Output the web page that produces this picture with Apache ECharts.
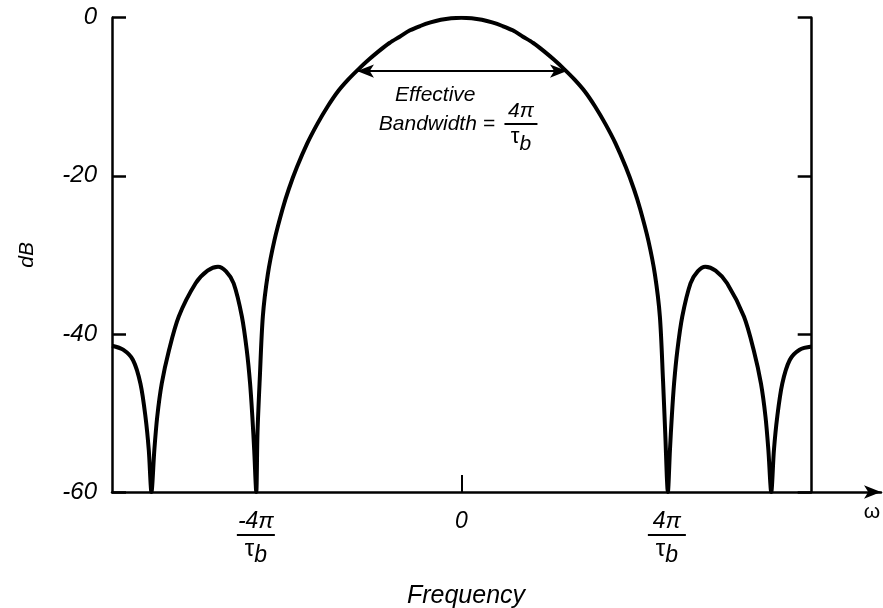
<!DOCTYPE html>
<html>
<head>
<meta charset="utf-8">
<script src="https://cdn.jsdelivr.net/npm/echarts@6/dist/echarts.min.js"></script>
<style>
  html, body { margin: 0; padding: 0; background: #fff; }
  #chart { width: 883px; height: 608px; }
</style>
</head>
<body>
<div id="chart"></div>
<script>
// Frequency in units of 4π/τb, magnitude in dB
const leftSidelobes = [
  [-1.700, -41.5], [-1.646, -42.0], [-1.598, -43.3], [-1.5615, -46.3], [-1.537, -50.5], [-1.521, -54.7], [-1.508, -60],
  [-1.494, -54.7], [-1.480, -50.5], [-1.458, -46.3], [-1.423, -42.1], [-1.375, -37.8], [-1.293, -33.6], [-1.235, -32.0],
  [-1.184, -31.5], [-1.145, -32.1], [-1.108, -33.6], [-1.068, -37.8], [-1.044, -42.1], [-1.028, -46.3], [-1.017, -50.5],
  [-1.008, -54.7]
];
const mainLobe = [
  [-0.998, -60], [-0.992, -52.5], [-0.981, -45.7], [-0.966, -37.8], [-0.942, -32.5], [-0.910, -28.2], [-0.870, -24.2],
  [-0.840, -21.7], [-0.800, -18.9], [-0.750, -15.9], [-0.700, -13.4], [-0.650, -11.2], [-0.600, -9.3], [-0.550, -7.8],
  [-0.500, -6.5], [-0.450, -5.3], [-0.400, -4.2], [-0.350, -3.2], [-0.300, -2.4], [-0.250, -1.6], [-0.200, -1.05],
  [-0.150, -0.6], [-0.100, -0.27], [-0.050, -0.07], [0, 0],
  [0.050, -0.07], [0.100, -0.27], [0.150, -0.6], [0.200, -1.05], [0.250, -1.6], [0.300, -2.4], [0.350, -3.2],
  [0.400, -4.2], [0.450, -5.3], [0.500, -6.5], [0.550, -7.8], [0.600, -9.3], [0.650, -11.2], [0.700, -13.4],
  [0.750, -15.9], [0.800, -18.9], [0.840, -21.7], [0.870, -24.2], [0.910, -28.2], [0.942, -32.5], [0.966, -37.8],
  [0.981, -45.7], [0.992, -52.5], [1.005, -60]
];
const rightSidelobes = [
  [1.015, -54.7], [1.024, -50.5], [1.035, -46.3], [1.051, -42.1], [1.075, -37.8], [1.115, -33.6], [1.150, -32.1],
  [1.187, -31.5], [1.237, -32.0], [1.293, -33.6], [1.375, -37.8], [1.423, -42.1], [1.458, -46.3], [1.480, -50.5],
  [1.494, -54.7], [1.508, -60], [1.521, -54.7], [1.537, -50.5], [1.5615, -46.3], [1.598, -43.3], [1.646, -42.0],
  [1.705, -41.6]
];

const xTickValues = [-1, 0, 1];
const xTickLabels = ['{n|-4π}\n{bar|}\n{d|τ}{s|b}', '{n|0}', '{n|4π}\n{bar|}\n{d|τ}{s|b}'];
const yTickLabels = { '0': '0', '-20': '-20', '-40': '-40', '-60': '-60' };

const bandwidthArrow = [[-0.508, -6.75], [0.514, -6.75]];
const annotations = [
  { coord: [-0.127, -9.8], text: '{t|Effective}' },
  { coord: [-0.119, -13.5], text: '{t|Bandwidth =}' },
  { coord: [0.29, -13.9], text: '{an|4π}\n{abar|}\n{ad|τ}{as|b}' }
];

const spectrum = leftSidelobes.concat(mainLobe, rightSidelobes);

const FONT = '"Liberation Sans", Arial, Helvetica, sans-serif';
const chart = echarts.init(document.getElementById('chart'), null, { renderer: 'canvas' });

chart.setOption({
  animation: false,
  backgroundColor: '#fff',
  textStyle: { fontFamily: FONT, color: '#000' },
  grid: { left: 112, right: 2, top: 17.7, bottom: 116 },
  xAxis: {
    type: 'value',
    min: -1.70,
    max: 2.042,
    splitLine: { show: false },
    axisLine: {
      show: true,
      onZero: false,
      symbol: ['none', 'arrow'],
      symbolSize: [10, 17],
      lineStyle: { color: '#000', width: 2.5 }
    },
    axisTick: { show: true, inside: true, length: 17, customValues: xTickValues, lineStyle: { color: '#000', width: 2 } },
    axisLabel: {
      show: true,
      customValues: xTickValues,
      margin: 19,
      formatter: function (v) {
        const i = xTickValues.indexOf(Math.round(v * 1000) / 1000);
        return i >= 0 ? xTickLabels[i] : '';
      },
      rich: {
        n: { fontSize: 23, fontStyle: 'italic', lineHeight: 22, fontFamily: FONT, color: '#000' },
        bar: { width: 38, height: 2, lineHeight: 4, backgroundColor: '#000' },
        d: { fontSize: 24, lineHeight: 22, verticalAlign: 'top', fontFamily: FONT, color: '#000' },
        s: { fontSize: 23, fontStyle: 'italic', lineHeight: 30, verticalAlign: 'bottom', fontFamily: FONT, color: '#000' }
      }
    }
  },
  yAxis: [
    {
      type: 'value',
      min: -60,
      max: 0,
      interval: 20,
      name: 'dB',
      nameLocation: 'middle',
      nameRotate: 90,
      nameGap: 74,
      nameTextStyle: { fontSize: 21, fontStyle: 'italic', fontFamily: FONT, color: '#000' },
      splitLine: { show: false },
      axisLine: { show: true, onZero: false, lineStyle: { color: '#000', width: 2.5 } },
      axisTick: { show: true, inside: true, length: 14, lineStyle: { color: '#000', width: 2.5 } },
      axisLabel: {
        show: true,
        margin: 15,
        fontSize: 24,
        fontStyle: 'italic',
        fontFamily: FONT,
        color: '#000',
        formatter: function (v) { return yTickLabels[String(v)] || ''; }
      }
    },
    {
      type: 'value',
      position: 'right',
      offset: -69.3,
      min: -60,
      max: 0,
      interval: 20,
      splitLine: { show: false },
      axisLine: { show: true, onZero: false, lineStyle: { color: '#000', width: 2.5 } },
      axisTick: { show: true, inside: true, length: 14, lineStyle: { color: '#000', width: 2.5 } },
      axisLabel: { show: false }
    }
  ],
  graphic: [
    {
      type: 'text', x: 466, y: 596,
      style: { text: 'Frequency', font: 'italic 25px ' + FONT, fill: '#000', textAlign: 'center', textVerticalAlign: 'middle' }
    },
    {
      type: 'text', x: 872, y: 512,
      style: { text: 'ω', font: '21px ' + FONT, fill: '#000', textAlign: 'center', textVerticalAlign: 'middle' }
    }
  ],
  series: [
    {
      type: 'line',
      yAxisIndex: 0,
      data: spectrum,
      showSymbol: false,
      smooth: 0.3,
      clip: true,
      lineStyle: { color: '#000', width: 4 },
      markLine: {
        silent: true,
        symbol: ['arrow', 'arrow'],
        symbolSize: [10, 17],
        label: { show: false },
        lineStyle: { color: '#000', width: 2, type: 'solid' },
        data: [[{ coord: bandwidthArrow[0] }, { coord: bandwidthArrow[1] }]]
      },
      markPoint: {
        silent: true,
        symbol: 'circle',
        symbolSize: 0,
        label: {
          show: true,
          position: 'inside',
          formatter: function (p) { return p.data.text; },
          rich: {
            t: { fontSize: 21, fontStyle: 'italic', fontFamily: FONT, color: '#000' },
            an: { fontSize: 21, fontStyle: 'italic', lineHeight: 22, fontFamily: FONT, color: '#000' },
            abar: { width: 33, height: 2, lineHeight: 4, backgroundColor: '#000' },
            ad: { fontSize: 22, lineHeight: 22, verticalAlign: 'top', fontFamily: FONT, color: '#000' },
            as: { fontSize: 21, fontStyle: 'italic', lineHeight: 29, verticalAlign: 'bottom', fontFamily: FONT, color: '#000' }
          }
        },
        data: annotations.map(function (a) { return { coord: a.coord, text: a.text }; })
      }
    }
  ]
});
</script>
</body>
</html>
